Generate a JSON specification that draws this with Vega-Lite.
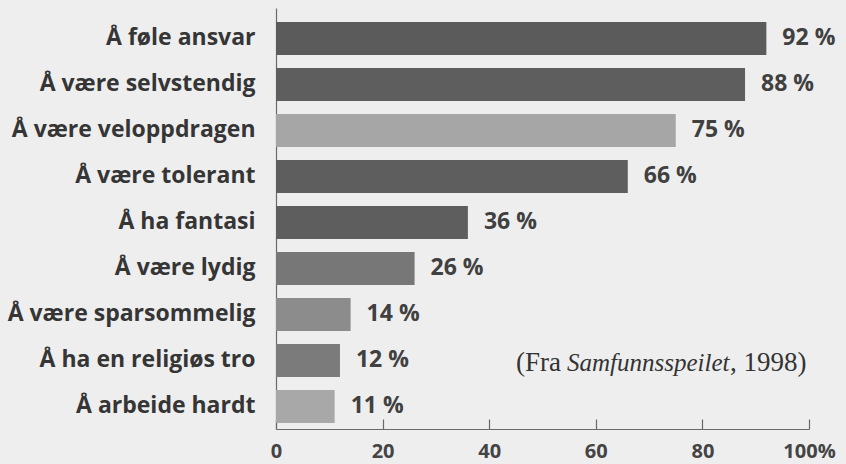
{
  "$schema": "https://vega.github.io/schema/vega-lite/v6.json",
  "autosize": {"type": "none"},
  "width": 533,
  "height": 421,
  "padding": {"left": 276, "top": 8, "right": 37, "bottom": 35},
  "background": "#eeeeee",
  "config": {
    "view": {"stroke": null},
    "font": "Open Sans",
    "axis": {"grid": false, "title": null}
  },
  "data": {
    "values": [
      {"kategori": "Å føle ansvar", "prosent": 92},
      {"kategori": "Å være selvstendig", "prosent": 88},
      {"kategori": "Å være veloppdragen", "prosent": 75},
      {"kategori": "Å være tolerant", "prosent": 66},
      {"kategori": "Å ha fantasi", "prosent": 36},
      {"kategori": "Å være lydig", "prosent": 26},
      {"kategori": "Å være sparsommelig", "prosent": 14},
      {"kategori": "Å ha en religiøs tro", "prosent": 12},
      {"kategori": "Å arbeide hardt", "prosent": 11}
    ]
  },
  "encoding": {
    "y": {
      "field": "kategori",
      "type": "nominal",
      "sort": null,
      "scale": {"paddingInner": 0.28, "paddingOuter": 0.216, "align": 0.7},
      "axis": {
        "ticks": false,
        "labelPadding": 21,
        "labelLimit": 0,
        "labelFontSize": 23,
        "labelFontWeight": "bold",
        "labelColor": "#353535",
        "labelFont": "Open Sans",
        "domainColor": "#6a6a6a",
        "domainWidth": 1.2
      }
    }
  },
  "layer": [
    {
      "mark": {"type": "bar"},
      "encoding": {
        "x": {
          "field": "prosent",
          "type": "quantitative",
          "scale": {"domain": [0, 100], "nice": false},
          "axis": {
            "values": [0, 20, 40, 60, 80, 100],
            "tickSize": -10,
            "tickColor": "#6a6a6a",
            "tickWidth": 1.2,
            "domainColor": "#6a6a6a",
            "domainWidth": 1.2,
            "labelPadding": 32,
            "labelBaseline": "middle",
            "labelFlush": false,
            "labelFontSize": 20,
            "labelFontWeight": "bold",
            "labelColor": "#444444",
            "labelFont": "Open Sans",
            "labelExpr": "datum.value == 100 ? '100%' : datum.label"
          }
        },
        "color": {
          "field": "kategori",
          "type": "nominal",
          "legend": null,
          "scale": {
            "domain": ["Å føle ansvar", "Å være selvstendig", "Å være veloppdragen", "Å være tolerant", "Å ha fantasi", "Å være lydig", "Å være sparsommelig", "Å ha en religiøs tro", "Å arbeide hardt"],
            "range": ["#5b5b5b", "#5e5e5e", "#a6a6a6", "#5e5e5e", "#5e5e5e", "#777777", "#8c8c8c", "#7b7b7b", "#a8a8a8"]
          }
        }
      }
    },
    {
      "transform": [{"calculate": "datum.prosent + ' %'", "as": "etikett"}],
      "mark": {"type": "text", "align": "left", "baseline": "middle", "dx": 16, "fontSize": 23, "fontWeight": "bold", "color": "#404040", "font": "Open Sans"},
      "encoding": {
        "x": {"field": "prosent", "type": "quantitative"},
        "text": {"field": "etikett"}
      }
    },
    {
      "data": {"values": [{"tekst": "(Fra", "x": 54.6, "kategori": "Å ha en religiøs tro"}]},
      "mark": {"type": "text", "align": "right", "baseline": "middle", "dy": 3, "dx": -6, "fontSize": 27, "font": "Liberation Serif", "color": "#333333"},
      "encoding": {
        "x": {"field": "x", "type": "quantitative"},
        "text": {"field": "tekst"}
      }
    },
    {
      "data": {"values": [{"tekst": ", 1998)", "x": 85.2, "kategori": "Å ha en religiøs tro"}]},
      "mark": {"type": "text", "align": "left", "baseline": "middle", "dy": 3, "fontSize": 27, "font": "Liberation Serif", "color": "#333333"},
      "encoding": {
        "x": {"field": "x", "type": "quantitative"},
        "text": {"field": "tekst"}
      }
    },
    {
      "data": {"values": [{"tekst": "Samfunnsspeilet", "x": 54.6, "kategori": "Å ha en religiøs tro"}]},
      "mark": {"type": "text", "align": "left", "baseline": "middle", "dy": 3, "fontSize": 25, "font": "Liberation Serif", "fontStyle": "italic", "color": "#333333"},
      "encoding": {
        "x": {"field": "x", "type": "quantitative"},
        "text": {"field": "tekst"}
      }
    }
  ]
}
